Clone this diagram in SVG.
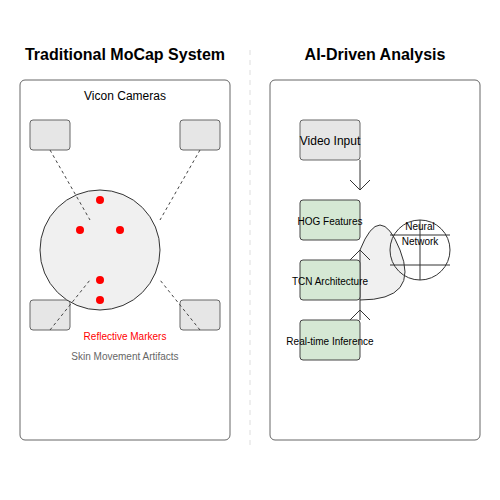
<svg xmlns="http://www.w3.org/2000/svg" width="500" height="500" viewBox="0 0 500 500">
<style>
text{font-family:"Liberation Sans",Arial,sans-serif;text-anchor:middle}
.title{font-size:16px;font-weight:bold;fill:#000}
.panel{fill:#fff;stroke:#666;stroke-width:1}
.cam{fill:#e6e6e6;stroke:#666;stroke-width:1}
.dash{stroke:#444;stroke-width:1;stroke-dasharray:3,3;fill:none}
.proc{fill:#d5e8d4;stroke:#444;stroke-width:1}
.line{stroke:#333;stroke-width:1;fill:none}
.dot{fill:#ff0000}
</style>
<rect width="500" height="500" fill="#fff"/>
<text class="title" x="125" y="60">Traditional MoCap System</text>
<text class="title" x="375" y="60">AI-Driven Analysis</text>
<line x1="250" y1="50" x2="250" y2="445" stroke="#ddd" stroke-width="1" stroke-dasharray="5,5"/>
<g id="left-panel">
<rect class="panel" x="20" y="80" width="210" height="360" rx="5"/>
<text x="125" y="100" font-size="12">Vicon Cameras</text>
</g>
<g id="cam-tl"><rect class="cam" x="30" y="120" width="40" height="30" rx="3"/></g>
<g id="cam-tr"><rect class="cam" x="180" y="120" width="40" height="30" rx="3"/></g>
<g id="cam-bl"><rect class="cam" x="30" y="300" width="40" height="30" rx="3"/></g>
<g id="cam-br"><rect class="cam" x="180" y="300" width="40" height="30" rx="3"/></g>
<g id="subject">
<circle cx="100" cy="250" r="60" fill="#f0f0f0" stroke="#333"/>
<circle class="dot" cx="100" cy="200" r="4"/>
<circle class="dot" cx="80" cy="230" r="4"/>
<circle class="dot" cx="120" cy="230" r="4"/>
<circle class="dot" cx="100" cy="280" r="4"/>
<circle class="dot" cx="100" cy="300" r="4"/>
</g>
<g id="left-labels">
<text x="125" y="340" font-size="10" fill="#ff0000">Reflective Markers</text>
<text x="125" y="360" font-size="10" fill="#666">Skin Movement Artifacts</text>
</g>
<g id="right-panel">
<rect class="panel" x="270" y="80" width="210" height="360" rx="5"/>
</g>
<g id="blob"><path d="M360,250 Q380,200 400,250 Q420,300 360,300" fill="#f0f0f0" stroke="#333"/></g>
<g id="neural-net">
<circle cx="420" cy="250" r="30" fill="none" stroke="#333"/>
<line class="line" x1="390" y1="235" x2="450" y2="235"/>
<line class="line" x1="390" y1="265" x2="450" y2="265"/>
<line class="line" x1="420" y1="220" x2="420" y2="280"/>
<text x="420" y="230" font-size="10">Neural</text>
<text x="420" y="245" font-size="10">Network</text>
</g>
<g id="connectors">
<line class="dash" x1="50" y1="150" x2="90" y2="220"/>
<line class="dash" x1="200" y1="150" x2="160" y2="220"/>
<line class="dash" x1="50" y1="330" x2="90" y2="280"/>
<line class="dash" x1="200" y1="330" x2="160" y2="280"/>
<path class="line" d="M360,160 V190 M350,180 L360,190 L370,180"/>
<path class="line" d="M360,250 V320 M350,260 L360,250 L370,260 M350,320 L360,310 L370,320"/>
</g>
<g id="video-input">
<rect class="cam" x="300" y="120" width="60" height="40" rx="3"/>
<text x="330" y="145" font-size="12">Video Input</text>
</g>
<g id="hog">
<rect class="proc" x="300" y="200" width="60" height="40" rx="3"/>
<text x="330" y="225" font-size="10">HOG Features</text>
</g>
<g id="tcn">
<rect class="proc" x="300" y="260" width="60" height="40" rx="3"/>
<text x="330" y="285" font-size="10">TCN Architecture</text>
</g>
<g id="inference">
<rect class="proc" x="300" y="320" width="60" height="40" rx="3"/>
<text x="330" y="345" font-size="10">Real-time Inference</text>
</g>
</svg>
